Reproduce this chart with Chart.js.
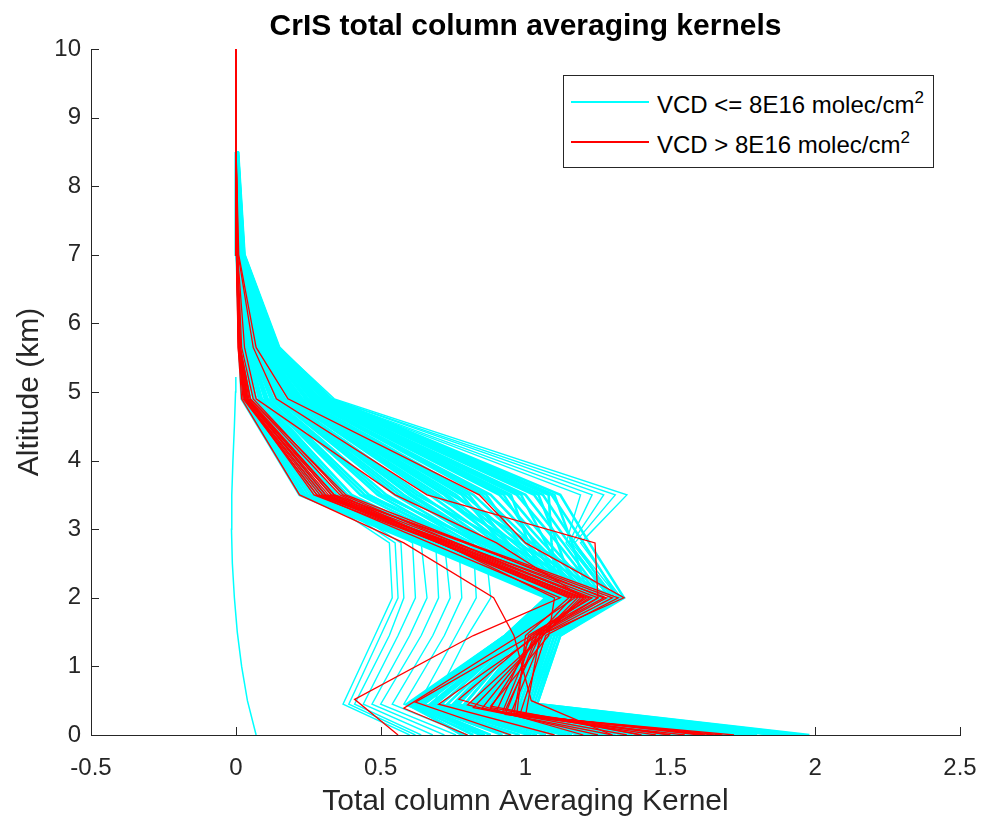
<!DOCTYPE html>
<html>
<head>
<meta charset="utf-8">
<title>CrIS total column averaging kernels</title>
<script src="https://cdn.jsdelivr.net/npm/chart.js@4.4.1/dist/chart.umd.min.js"></script>
<style>
  html, body { margin: 0; padding: 0; background: #fff; }
  #wrap { position: relative; width: 981px; height: 822px; }
  #legend { position: absolute; left: 563px; top: 75px; width: 369px; height: 91px; border: 1px solid #262626; background: #fff;
            font-family: 'Liberation Sans', Arial, sans-serif; font-size: 24px; color: #000; }
  #legend .swatch { position: absolute; left: 7px; width: 78px; height: 2px; }
  #legend .label { position: absolute; left: 93px; line-height: 24px; white-space: nowrap; }
  #legend sup { font-size: 17px; vertical-align: baseline; position: relative; top: -10px; }
</style>
</head>
<body>
<div id="wrap">
  <canvas id="kernelChart"></canvas>
  <div id="legend">
    <div class="swatch" style="top:25px;background:#00ffff"></div>
    <div class="label" style="top:17px">VCD &lt;= 8E16 molec/cm<sup>2</sup></div>
    <div class="swatch" style="top:65px;background:#ff0000"></div>
    <div class="label" style="top:57px">VCD &gt; 8E16 molec/cm<sup>2</sup></div>
  </div>
</div>
<script>
Chart.defaults.font.family = "'Liberation Sans', Arial, sans-serif";
Chart.defaults.color = '#262626';

const AXIS_COLOR = '#262626';

// altitude levels (km) the kernels are given on
const levelKm = [0, 0.45, 1.45, 2.0, 2.8, 3.5, 4.9, 5.65, 7.0, 8.5];
const redLevelKm = [0, 0.45, 1.45, 2.0, 2.8, 3.5, 4.9, 5.65, 7.0, 8.5, 10];

// VCD <= 8E16 : kernel value at each level in levelKm (main dense group)
const cyanKernels = [
  [1.98, 1.04, 1.12, 1.34, 1.22, 1.12, 0.33, 0.150, 0.030, 0.008],
  [1.55, 0.95, 1.05, 1.22, 1.16, 1.10, 0.325, 0.147, 0.029, 0.007],
  [1.92, 1.03, 1.11, 1.32, 1.20, 1.09, 0.32, 0.145, 0.028, 0.007],
  [1.02, 0.68, 0.96, 1.11, 1.09, 1.08, 0.315, 0.142, 0.027, 0.006],
  [1.86, 1.02, 1.10, 1.30, 1.17, 1.06, 0.31, 0.140, 0.027, 0.006],
  [1.43, 0.91, 1.03, 1.18, 1.11, 1.045, 0.305, 0.137, 0.026, 0.006],
  [1.80, 1.01, 1.09, 1.29, 1.15, 1.03, 0.30, 0.135, 0.026, 0.006],
  [1.75, 1.00, 1.08, 1.27, 1.13, 1.00, 0.29, 0.130, 0.025, 0.005],
  [1.31, 0.86, 1.01, 1.16, 1.07, 0.985, 0.285, 0.127, 0.024, 0.005],
  [1.70, 0.99, 1.08, 1.26, 1.11, 0.97, 0.28, 0.125, 0.024, 0.005],
  [0.86, 0.61, 0.94, 1.08, 1.01, 0.95, 0.275, 0.122, 0.023, 0.005],
  [1.66, 0.98, 1.07, 1.25, 1.08, 0.94, 0.27, 0.120, 0.023, 0.005],
  [1.19, 0.79, 0.99, 1.14, 1.03, 0.925, 0.265, 0.117, 0.022, 0.005],
  [1.62, 0.97, 1.06, 1.24, 1.06, 0.91, 0.26, 0.115, 0.022, 0.005],
  [1.58, 0.96, 1.06, 1.23, 1.04, 0.88, 0.25, 0.110, 0.021, 0.004],
  [1.07, 0.71, 0.97, 1.12, 0.98, 0.865, 0.245, 0.107, 0.020, 0.004],
  [1.55, 0.95, 1.05, 1.22, 1.02, 0.85, 0.24, 0.105, 0.020, 0.004],
  [1.52, 0.94, 1.05, 1.21, 1.00, 0.82, 0.23, 0.100, 0.019, 0.004],
  [0.95, 0.64, 0.95, 1.10, 0.94, 0.805, 0.225, 0.097, 0.018, 0.004],
  [1.49, 0.93, 1.04, 1.20, 0.98, 0.79, 0.22, 0.095, 0.018, 0.004],
  [0.79, 0.59, 0.93, 1.07, 0.915, 0.78, 0.215, 0.092, 0.017, 0.004],
  [1.46, 0.92, 1.04, 1.19, 0.96, 0.76, 0.21, 0.090, 0.017, 0.004],
  [1.96, 1.04, 1.12, 1.33, 1.02, 0.745, 0.205, 0.087, 0.016, 0.004],
  [1.43, 0.91, 1.03, 1.18, 0.94, 0.73, 0.20, 0.085, 0.016, 0.004],
  [1.14, 0.76, 0.98, 1.13, 0.91, 0.72, 0.195, 0.083, 0.015, 0.003],
  [1.40, 0.90, 1.03, 1.18, 0.92, 0.70, 0.19, 0.080, 0.015, 0.003],
  [1.88, 1.02, 1.10, 1.30, 0.97, 0.685, 0.185, 0.078, 0.014, 0.003],
  [1.37, 0.89, 1.02, 1.17, 0.90, 0.67, 0.18, 0.076, 0.014, 0.003],
  [1.34, 0.87, 1.02, 1.16, 0.88, 0.64, 0.17, 0.072, 0.013, 0.003],
  [1.77, 1.00, 1.08, 1.27, 0.93, 0.625, 0.165, 0.070, 0.012, 0.003],
  [1.31, 0.86, 1.01, 1.16, 0.87, 0.61, 0.16, 0.068, 0.012, 0.003],
  [1.26, 0.83, 1.00, 1.15, 0.86, 0.60, 0.155, 0.066, 0.011, 0.003],
  [1.28, 0.84, 1.01, 1.15, 0.85, 0.58, 0.15, 0.064, 0.011, 0.003],
  [1.68, 0.98, 1.07, 1.25, 0.885, 0.565, 0.145, 0.062, 0.011, 0.003],
  [1.25, 0.83, 1.00, 1.15, 0.83, 0.55, 0.14, 0.060, 0.010, 0.003],
  [1.22, 0.81, 1.00, 1.14, 0.81, 0.52, 0.13, 0.056, 0.010, 0.003],
  [1.60, 0.96, 1.06, 1.23, 0.845, 0.505, 0.125, 0.054, 0.010, 0.003],
  [1.19, 0.79, 0.99, 1.14, 0.79, 0.49, 0.12, 0.052, 0.009, 0.002],
  [1.16, 0.77, 0.99, 1.13, 0.77, 0.46, 0.11, 0.048, 0.009, 0.002],
  [1.53, 0.94, 1.05, 1.21, 0.80, 0.445, 0.105, 0.046, 0.009, 0.002],
  [1.13, 0.75, 0.98, 1.13, 0.76, 0.43, 0.10, 0.044, 0.008, 0.002],
  [1.10, 0.73, 0.98, 1.12, 0.74, 0.40, 0.09, 0.040, 0.008, 0.002],
  [1.47, 0.92, 1.04, 1.19, 0.76, 0.385, 0.085, 0.038, 0.008, 0.002],
  [1.07, 0.71, 0.97, 1.12, 0.72, 0.37, 0.08, 0.036, 0.007, 0.002],
  [1.04, 0.69, 0.97, 1.11, 0.71, 0.35, 0.07, 0.032, 0.007, 0.002],
  [1.41, 0.90, 1.03, 1.18, 0.73, 0.34, 0.065, 0.030, 0.007, 0.002],
  [1.01, 0.67, 0.96, 1.11, 0.69, 0.33, 0.06, 0.028, 0.006, 0.002],
  [0.98, 0.65, 0.96, 1.10, 0.68, 0.31, 0.05, 0.025, 0.006, 0.002],
  [1.35, 0.88, 1.02, 1.16, 0.70, 0.30, 0.048, 0.024, 0.006, 0.002],
  [0.95, 0.64, 0.95, 1.10, 0.67, 0.29, 0.045, 0.022, 0.005, 0.002],
  [0.92, 0.63, 0.95, 1.09, 0.65, 0.27, 0.040, 0.020, 0.005, 0.002],
  [1.29, 0.85, 1.01, 1.15, 0.675, 0.26, 0.038, 0.019, 0.005, 0.002],
  [0.88, 0.62, 0.94, 1.09, 0.64, 0.25, 0.035, 0.018, 0.004, 0.002],
  [0.85, 0.61, 0.94, 1.08, 0.63, 0.24, 0.030, 0.016, 0.004, 0.001],
  [1.23, 0.82, 1.00, 1.14, 0.66, 0.235, 0.028, 0.015, 0.004, 0.001],
  [0.82, 0.60, 0.93, 1.08, 0.63, 0.23, 0.025, 0.014, 0.004, 0.001],
  [0.78, 0.60, 0.93, 1.07, 0.62, 0.22, 0.020, 0.012, 0.003, 0.001]
];

// thin profiles peaking near 3.5 km, and sparse low-sensitivity profiles
const cyanThinKernels = [
  [1.90, 1.03, 1.12, 1.33, 1.19, 1.35, 0.34, 0.150, 0.030, 0.008],
  [1.84, 1.02, 1.11, 1.32, 1.17, 1.31, 0.33, 0.150, 0.030, 0.008],
  [1.78, 1.01, 1.10, 1.31, 1.16, 1.27, 0.33, 0.145, 0.029, 0.007],
  [1.72, 1.00, 1.09, 1.30, 1.15, 1.23, 0.32, 0.140, 0.028, 0.007],
  [1.68, 0.99, 1.09, 1.29, 1.14, 1.19, 0.32, 0.140, 0.028, 0.007],
  [0.60, 0.37, 0.48, 0.54, 0.53, 0.28, 0.05, 0.020, 0.004, 0.001],
  [0.62, 0.39, 0.50, 0.56, 0.55, 0.30, 0.06, 0.020, 0.004, 0.001],
  [0.64, 0.41, 0.53, 0.58, 0.57, 0.31, 0.06, 0.025, 0.005, 0.001],
  [0.68, 0.44, 0.56, 0.62, 0.61, 0.33, 0.07, 0.030, 0.005, 0.001],
  [0.72, 0.47, 0.60, 0.66, 0.64, 0.35, 0.08, 0.030, 0.006, 0.001],
  [0.76, 0.50, 0.64, 0.70, 0.69, 0.38, 0.09, 0.035, 0.006, 0.001],
  [0.80, 0.54, 0.68, 0.74, 0.72, 0.40, 0.10, 0.040, 0.007, 0.001],
  [0.84, 0.58, 0.72, 0.78, 0.77, 0.43, 0.11, 0.045, 0.008, 0.002],
  [0.88, 0.63, 0.76, 0.83, 0.82, 0.46, 0.12, 0.050, 0.009, 0.002],
  [0.92, 0.68, 0.80, 0.88, 0.86, 0.50, 0.13, 0.055, 0.010, 0.002]
];

// one odd low-sensitivity profile on a finer grid
const oddKm = [0, 0.5, 1.0, 1.5, 2.0, 2.5, 3.0, 3.5, 4.0, 4.5, 5.0, 5.22];
const oddKernel = [0.07, 0.04, 0.02, 0.005, -0.005, -0.012, -0.015, -0.014, -0.01, -0.005, -0.001, 0.0];

// VCD > 8E16 : kernel value at each level in redLevelKm
const redKernels = [
  [0.56, 0.41, 0.82, 1.12, 0.67, 0.28, 0.025, 0.008, 0.003, 0.001, 0],
  [1.30, 1.02, 0.96, 0.89, 0.58, 0.22, 0.020, 0.008, 0.002, 0.001, 0],
  [1.50, 0.93, 1.05, 1.34, 1.00, 0.84, 0.180, 0.070, 0.010, 0.001, 0],
  [1.40, 0.88, 1.04, 1.25, 1.24, 0.66, 0.140, 0.060, 0.008, 0.001, 0],
  [1.25, 0.80, 1.06, 1.20, 0.90, 0.55, 0.070, 0.030, 0.006, 0.001, 0],
  [1.20, 0.77, 1.03, 1.22, 0.73, 0.30, 0.030, 0.010, 0.004, 0.001, 0],
  [1.35, 0.85, 1.05, 1.18, 0.72, 0.32, 0.035, 0.012, 0.004, 0.001, 0],
  [1.45, 0.90, 1.02, 1.25, 0.76, 0.33, 0.040, 0.012, 0.004, 0.001, 0],
  [1.55, 0.93, 1.04, 1.28, 0.75, 0.28, 0.030, 0.010, 0.003, 0.001, 0],
  [1.60, 0.95, 1.06, 1.20, 0.70, 0.27, 0.030, 0.010, 0.003, 0.001, 0],
  [1.65, 0.97, 1.00, 1.15, 0.70, 0.31, 0.040, 0.012, 0.003, 0.001, 0],
  [1.72, 1.00, 1.05, 1.30, 0.79, 0.34, 0.045, 0.015, 0.005, 0.001, 0],
  [1.40, 0.88, 1.08, 1.10, 0.71, 0.36, 0.050, 0.015, 0.005, 0.001, 0],
  [1.10, 0.70, 1.04, 1.16, 0.70, 0.29, 0.030, 0.010, 0.003, 0.001, 0],
  [0.95, 0.62, 1.02, 1.21, 0.76, 0.37, 0.060, 0.020, 0.006, 0.001, 0],
  [1.50, 0.92, 1.03, 1.27, 0.80, 0.38, 0.050, 0.015, 0.005, 0.001, 0],
  [1.62, 0.96, 1.01, 1.23, 0.74, 0.31, 0.035, 0.012, 0.004, 0.001, 0],
  [1.30, 0.82, 1.06, 1.19, 0.73, 0.33, 0.040, 0.013, 0.004, 0.001, 0],
  [0.80, 0.58, 0.98, 1.17, 0.71, 0.30, 0.030, 0.010, 0.003, 0.001, 0],
  [1.68, 0.98, 1.07, 1.32, 0.80, 0.34, 0.040, 0.014, 0.004, 0.001, 0]
];
// altitude of the lowest kink for each red profile (km)
const redKinkKm = [0.52, 0.50, 0.36, 0.40, 0.44, 0.52, 0.39, 0.35, 0.30, 0.32,
                   0.30, 0.28, 0.42, 0.45, 0.48, 0.33, 0.31, 0.40, 0.39, 0.29];

const xTicks = [-0.5, 0, 0.5, 1, 1.5, 2, 2.5];
const yTicks = [0, 1, 2, 3, 4, 5, 6, 7, 8, 9, 10];

function profileLine(values, km, color, width, order) {
    return {
        data: values.map((v, i) => ({ x: v, y: km[i] })),
        showLine: true,
        borderColor: color,
        borderWidth: width,
        pointRadius: 0,
        fill: false,
        tension: 0,
        order: order
    };
}

const datasets = [];
redKernels.forEach((k, j) => {
    const km = redLevelKm.slice();
    km[1] = redKinkKm[j];
    datasets.push(profileLine(k, km, '#ff0000', 1.3, 0));
});
cyanKernels.forEach(k => datasets.push(profileLine(k, levelKm, '#00ffff', 2.6, 1)));
cyanThinKernels.forEach(k => datasets.push(profileLine(k, levelKm, '#00ffff', 1.4, 1)));
datasets.push(profileLine(oddKernel, oddKm, '#00ffff', 1.5, 1));

// MATLAB style tick marks pointing into the axes
const inwardTicks = {
    id: 'inwardTicks',
    beforeDatasetsDraw(chart) {
        const { ctx, chartArea: a, scales: { x, y } } = chart;
        ctx.save();
        ctx.strokeStyle = AXIS_COLOR;
        ctx.lineWidth = 1;
        ctx.beginPath();
        xTicks.forEach(v => {
            const px = Math.round(x.getPixelForValue(v)) + 0.5;
            ctx.moveTo(px, a.bottom);
            ctx.lineTo(px, a.bottom - 8);
        });
        yTicks.forEach(v => {
            const py = Math.round(y.getPixelForValue(v)) + 0.5;
            ctx.moveTo(a.left, py);
            ctx.lineTo(a.left + 8, py);
        });
        ctx.stroke();
        ctx.restore();
    }
};

// invisible outward tick marks only reserve the gap between axis and labels
const hiddenTicks = len => ({
    display: true, drawOnChartArea: false, drawTicks: true,
    tickLength: len, tickColor: 'rgba(0,0,0,0)'
});

const ctx = document.getElementById('kernelChart').getContext('2d');
const kernelChart = new Chart(ctx, {
    type: 'scatter',
    data: { datasets: datasets },
    options: {
        responsive: true,
        maintainAspectRatio: false,
        animation: false,
        layout: { padding: { left: 0, right: 21, top: 0, bottom: 0 } },
        plugins: {
            legend: { display: false },
            tooltip: { enabled: false },
            title: { display: false }
        },
        scales: {
            x: {
                type: 'linear',
                min: -0.5,
                max: 2.5,
                afterBuildTicks: s => { s.ticks = xTicks.map(v => ({ value: v })); },
                afterFit: s => { s.height = 87; },
                ticks: { font: { size: 24 }, padding: 0, maxRotation: 0, color: '#262626',
                         callback: v => String(v) },
                grid: hiddenTicks(19),
                border: { display: true, color: AXIS_COLOR, width: 1 },
                title: {
                    display: true,
                    text: 'Total column Averaging Kernel',
                    color: '#262626',
                    font: { size: 30 },
                    padding: { top: 0, bottom: 2 }
                }
            },
            // empty top axis, only used to centre the title over the plot area
            top: {
                type: 'linear',
                position: 'top',
                min: 0,
                max: 1,
                afterFit: s => { s.height = 49; },
                ticks: { display: false },
                grid: { display: false, drawTicks: false },
                border: { display: false },
                title: {
                    display: true,
                    text: 'CrIS total column averaging kernels',
                    color: '#000',
                    font: { size: 30, weight: 'bold' },
                    padding: { top: 9, bottom: 0 }
                }
            },
            y: {
                type: 'linear',
                min: 0,
                max: 10,
                afterBuildTicks: s => { s.ticks = yTicks.map(v => ({ value: v })); },
                afterFit: s => { s.width = 91; },
                ticks: { font: { size: 24 }, padding: 0, color: '#262626' },
                grid: hiddenTicks(10),
                border: { display: true, color: AXIS_COLOR, width: 1 },
                title: {
                    display: true,
                    text: 'Altitude (km)',
                    color: '#262626',
                    font: { size: 30 },
                    padding: { top: 12, bottom: 0 }
                }
            }
        }
    },
    plugins: [inwardTicks]
});
</script>
</body>
</html>
